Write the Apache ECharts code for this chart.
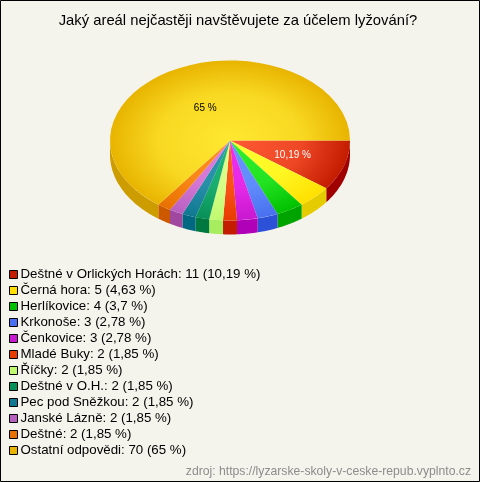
<!DOCTYPE html>
<html><head><meta charset="utf-8">
<script src="https://cdn.jsdelivr.net/npm/echarts@6/dist/echarts.min.js"></script>
<style>html,body{margin:0;padding:0;background:#f5f4ec}#c{width:480px;height:482px}</style>
</head><body><div id="c"></div>
<script>
const titleText = 'Jaký areál nejčastěji navštěvujete za účelem lyžování?';
const sourceText = 'zdroj: https://lyzarske-skoly-v-ceske-repub.vyplnto.cz';
const categories = ['Deštné v Orlických Horách','Černá hora','Herlíkovice','Krkonoše','Čenkovice','Mladé Buky','Říčky','Deštné v O.H.','Pec pod Sněžkou','Janské Lázně','Deštné','Ostatní odpovědi'];
const values = [11,5,4,3,3,2,2,2,2,2,2,70];
const percents = ['10,19','4,63','3,7','2,78','2,78','1,85','1,85','1,85','1,85','1,85','1,85','65'];
const inner = ['#ff5a35','#ffff30','#30f030','#6a96ff','#f030f0','#ff5a20','#e0ff90','#20b878','#3098b0','#e080e0','#ff9020','#ffe830'];
const outer = ['#c41c00','#ffe000','#00c000','#4870f0','#c818d0','#e83c00','#c0f870','#089058','#107890','#b860c0','#e87000','#e8b400'];
const side =  ['#a00000','#e4cc00','#00a400','#2c50d8','#b000b8','#c41c00','#a8ec60','#007840','#006880','#a048a0','#cc5800','#cc9c00'];

const cx = 230, cy = 140.5, rx = 120, ry = 80, depth = 14;
const total = values.reduce((a,b)=>a+b,0);
const names = categories.map((c,i)=>c+': '+values[i]+' ('+percents[i]+' %)');
let acc = 0;
const spans = values.map(v=>{const s=acc/total*2*Math.PI; acc+=v; return [s,acc/total*2*Math.PI];});

function wallPoints(a0,a1){
  const s=Math.max(a0,0), e=Math.min(a1,Math.PI);
  if(e<=s) return null;
  const n=Math.max(2,Math.ceil((e-s)/0.02)), top=[], bot=[];
  for(let k=0;k<=n;k++){
    const a=s+(e-s)*k/n, x=cx+rx*Math.cos(a), y=cy+ry*Math.sin(a);
    top.push([x,y]); bot.unshift([x,y+depth]);
  }
  return top.concat(bot);
}
function render(i){
  return function(){
    const [a0,a1]=spans[i], kids=[];
    const w=wallPoints(a0,a1);
    if(w) kids.push({type:'polygon',shape:{points:w},style:{fill:side[i]},z2:1});
    const mid=echarts.color.lerp(0.3,[inner[i],outer[i]]);
    kids.push({type:'sector',x:cx,y:cy,scaleY:ry/rx,
      shape:{cx:0,cy:0,r:rx,r0:0,startAngle:a0,endAngle:a1,clockwise:true},
      style:{fill:new echarts.graphic.RadialGradient(0,0,rx,[{offset:0,color:inner[i]},{offset:0.6,color:mid},{offset:1,color:outer[i]}],true)},z2:2});
    if(i===0||i===values.length-1){
      const m=(a0+a1)/2, f=i===0?0.55:0.46;
      kids.push({type:'text',x:cx+rx*f*Math.cos(m),y:cy+1+ry*f*Math.sin(m),z2:3,
        style:{text:percents[i]+' %',fill:i===0?'#ffffff':'#000000',font:'10px "Liberation Sans"',align:'center',verticalAlign:'middle'}});
    }
    return {type:'group',children:kids};
  };
}
const chart = echarts.init(document.getElementById('c'),null,{renderer:'canvas'});
chart.setOption({
  animation:false,
  backgroundColor:'#f5f4ec',
  title:{text:titleText,left:238,top:13,padding:0,textAlign:'center',textStyle:{fontFamily:'Liberation Sans',fontSize:14.8,fontWeight:'normal',color:'#000'}},
  legend:{orient:'vertical',left:9,top:268,padding:0,itemWidth:8,itemHeight:8,itemGap:3,selectedMode:false,icon:'rect',
    itemStyle:{borderColor:'#000',borderWidth:1,borderJoin:'miter'},
    textStyle:{fontFamily:'Liberation Sans',fontSize:13.3,color:'#000',padding:[0,0,0,-2],lineHeight:12,height:12},
    data:names},
  graphic:[
    {type:'rect',shape:{x:0.5,y:0.5,width:479,height:481},style:{fill:'none',stroke:'#000',lineWidth:1},z:0},
    {type:'text',right:9,top:466,style:{text:sourceText,fill:'#8c8c8c',font:'12.2px "Liberation Sans"'}}
  ],
  series:names.map((n,i)=>({name:n,type:'custom',coordinateSystem:'none',silent:true,
    itemStyle:{color:outer[i]},data:[[values[i]]],renderItem:render(i)}))
});
</script></body></html>
